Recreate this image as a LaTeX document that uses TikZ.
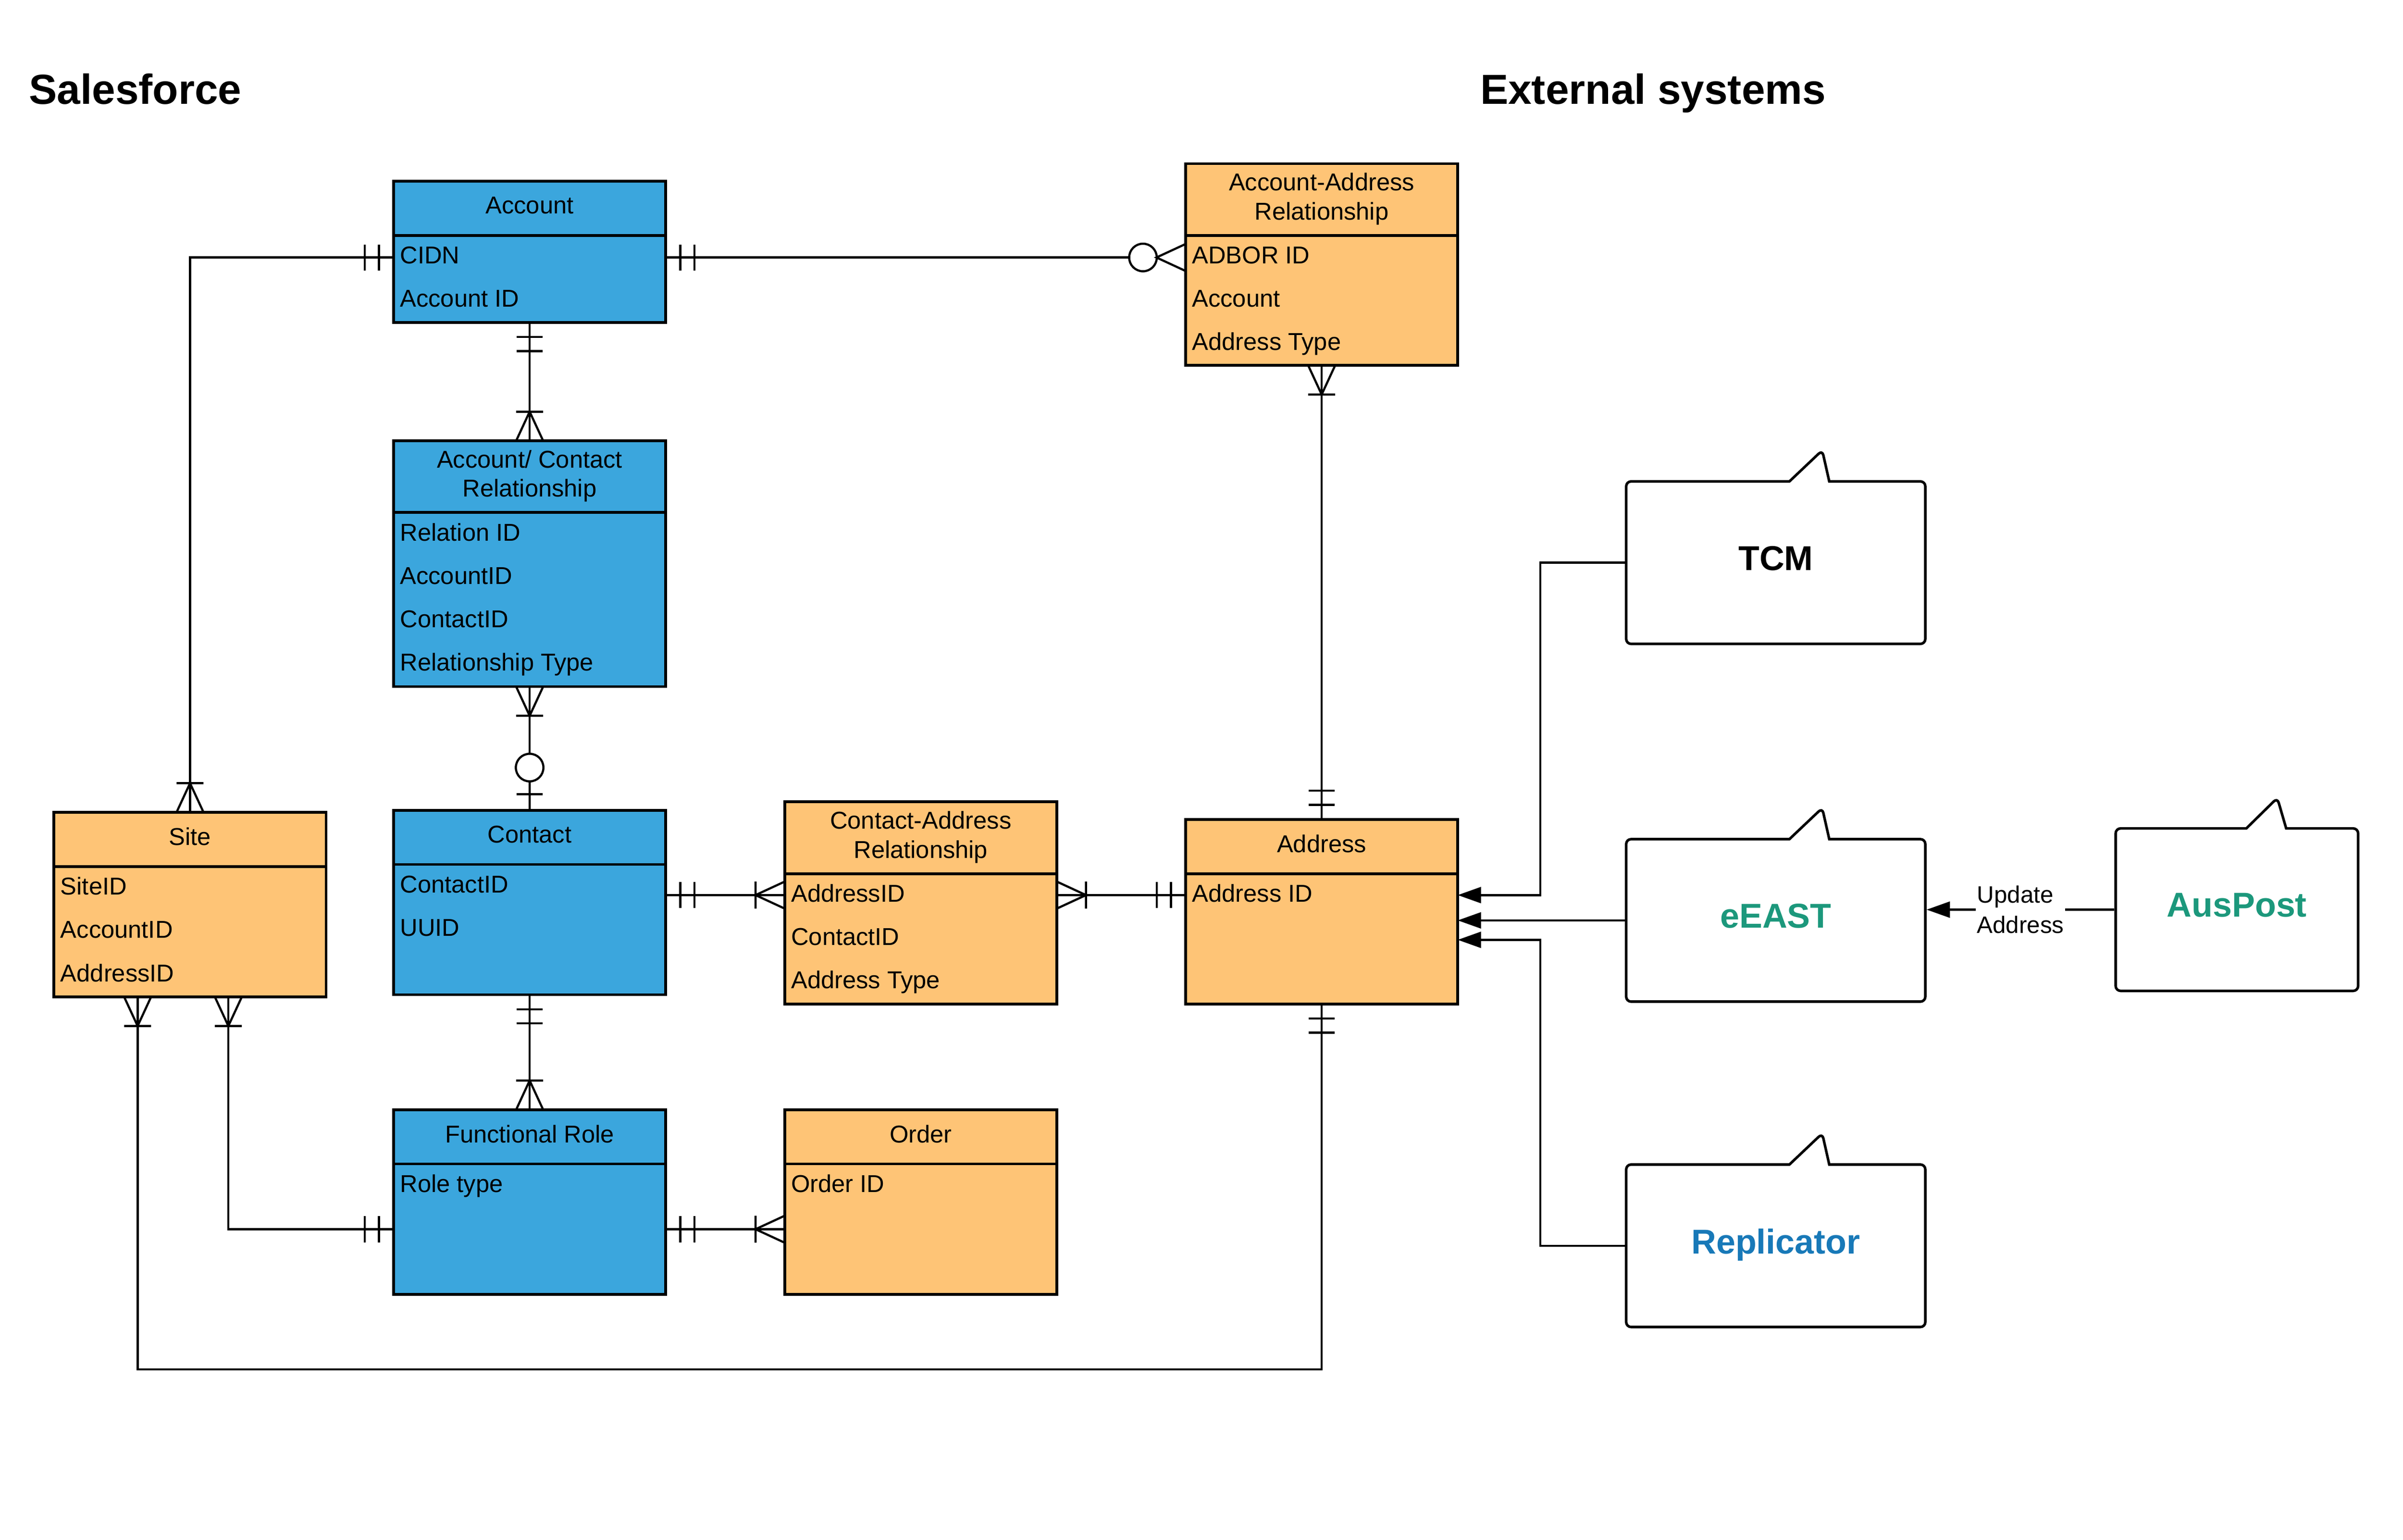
\documentclass[tikz,border=0pt]{standalone}
\usepackage{fontspec}
\setmainfont{Liberation Sans}
\usetikzlibrary{arrows.meta,positioning,shapes.callouts}

\definecolor{sfblue}{RGB}{59,166,221}
\definecolor{sforange}{RGB}{254,196,118}
\definecolor{extgreen}{RGB}{28,152,124}
\definecolor{extblue}{RGB}{24,121,184}

% crow's foot ends
\pgfdeclarearrow{
	name = erOne,
	setup code = {
		\pgfarrowssettipend{0pt}
		\pgfarrowssetlineend{0pt}
		\pgfarrowssetbackend{-0.5cm}
		\pgfarrowshullpoint{0pt}{0.22cm}
		\pgfarrowshullpoint{0pt}{-0.22cm}
		\pgfarrowshullpoint{-0.5cm}{0.22cm}
		\pgfarrowshullpoint{-0.5cm}{-0.22cm}
	},
	drawing code = {
		\pgfpathmoveto{\pgfpoint{-0.2375cm}{0.2125cm}}
		\pgfpathlineto{\pgfpoint{-0.2375cm}{-0.2125cm}}
		\pgfpathmoveto{\pgfpoint{-0.4675cm}{0.2125cm}}
		\pgfpathlineto{\pgfpoint{-0.4675cm}{-0.2125cm}}
		\pgfusepathqstroke
	}
}
\pgfdeclarearrow{
	name = erMany,
	setup code = {
		\pgfarrowssettipend{0pt}
		\pgfarrowssetlineend{0pt}
		\pgfarrowssetbackend{-0.5cm}
		\pgfarrowshullpoint{0pt}{0.22cm}
		\pgfarrowshullpoint{0pt}{-0.22cm}
		\pgfarrowshullpoint{-0.5cm}{0.22cm}
		\pgfarrowshullpoint{-0.5cm}{-0.22cm}
	},
	drawing code = {
		\pgfpathmoveto{\pgfpoint{0pt}{0.22cm}}
		\pgfpathlineto{\pgfpoint{-0.475cm}{0pt}}
		\pgfpathlineto{\pgfpoint{0pt}{-0.22cm}}
		\pgfpathmoveto{\pgfpoint{-0.475cm}{0.22cm}}
		\pgfpathlineto{\pgfpoint{-0.475cm}{-0.22cm}}
		\pgfusepathqstroke
	}
}
\pgfdeclarearrow{
	name = erZeroMany,
	setup code = {
		\pgfarrowssettipend{0pt}
		\pgfarrowssetlineend{-0.92cm}
		\pgfarrowssetbackend{-0.92cm}
		\pgfarrowshullpoint{0pt}{0.23cm}
		\pgfarrowshullpoint{0pt}{-0.23cm}
		\pgfarrowshullpoint{-0.92cm}{0.23cm}
		\pgfarrowshullpoint{-0.92cm}{-0.23cm}
	},
	drawing code = {
		\pgfpathmoveto{\pgfpoint{0pt}{0.22cm}}
		\pgfpathlineto{\pgfpoint{-0.475cm}{0pt}}
		\pgfpathlineto{\pgfpoint{0pt}{-0.22cm}}
		\pgfpathcircle{\pgfpoint{-0.695cm}{0pt}}{0.225cm}
		\pgfusepathqstroke
	}
}
\pgfdeclarearrow{
	name = erZeroOne,
	setup code = {
		\pgfarrowssettipend{0pt}
		\pgfarrowssetlineend{-0.92cm}
		\pgfarrowssetbackend{-0.92cm}
		\pgfarrowshullpoint{0pt}{0.23cm}
		\pgfarrowshullpoint{0pt}{-0.23cm}
		\pgfarrowshullpoint{-0.92cm}{0.23cm}
		\pgfarrowshullpoint{-0.92cm}{-0.23cm}
	},
	drawing code = {
		\pgfpathmoveto{\pgfpoint{0pt}{0pt}}
		\pgfpathlineto{\pgfpoint{-0.47cm}{0pt}}
		\pgfpathmoveto{\pgfpoint{-0.26cm}{0.2125cm}}
		\pgfpathlineto{\pgfpoint{-0.26cm}{-0.2125cm}}
		\pgfpathcircle{\pgfpoint{-0.695cm}{0pt}}{0.225cm}
		\pgfusepathqstroke
	}
}

\begin{document}
\begin{tikzpicture}
	\tikzstyle{every edge}=[draw,line width=1pt]
	\tikzstyle{rel}=[draw,line width=1pt]
	\tikzstyle{heading}=[anchor=base west,inner sep=0pt,font=\fontsize{19.5}{23}\selectfont\bfseries]
	\tikzstyle{entity}=[draw,line width=1.3pt,minimum width=4.44cm,inner sep=0pt,outer sep=0pt,align=center,font=\fontsize{11.3}{13.5}\selectfont]
	\tikzstyle{head}=[entity,anchor=north west,minimum height=0.885cm,text depth=0.1cm]
	\tikzstyle{head2}=[head,minimum height=1.17cm]
	\tikzstyle{body}=[entity,minimum height=2.125cm]
	\tikzstyle{attr}=[anchor=base west,inner sep=0pt,font=\fontsize{11.3}{13.5}\selectfont]
	\tikzstyle{sys}=[rectangle callout,draw,line width=1.2pt,rounded corners=0.08cm,minimum width=4.88cm,minimum height=2.65cm,callout pointer width=0.65cm,callout relative pointer={(0.21,0.5075)},text depth=0.15cm,font=\fontsize{16}{19}\selectfont\bfseries]
	\tikzstyle{feed}=[line width=1pt,-{Triangle[length=0.38cm,width=0.26cm]}]
	\tikzstyle{upd}=[fill=white,inner xsep=0.5pt,inner ysep=1pt,align=left,font=\fontsize{11}{14}\selectfont]

	\useasboundingbox (0,0) rectangle (39.2,-25.115);

	\node (sf) [heading] at (0.465,-1.70) {Salesforce};
	\node (ext) [heading] at (24.14,-1.70) {External systems};

	\node (acct) [head,fill=sfblue] at (6.42,-2.955) {Account};
	\node (acctb) [body,fill=sfblue,below=0pt of acct,minimum height=1.42cm] {};
	\node (cidn) [attr] at ([shift={(0.1,-0.46)}]acctb.north west) {CIDN};
	\node (acctid) [attr] at ([yshift=-0.7075cm]cidn.base west) {Account ID};

	\node (acctrel) [head2,fill=sfblue] at (6.42,-7.19) {Account/ Contact\\Relationship};
	\node (acctrelb) [body,fill=sfblue,below=0pt of acctrel,minimum height=2.84cm] {};
	\node (relid) [attr] at ([shift={(0.1,-0.46)}]acctrelb.north west) {Relation ID};
	\node (relacct) [attr] at ([yshift=-0.7075cm]relid.base west) {AccountID};
	\node (relcont) [attr] at ([yshift=-0.7075cm]relacct.base west) {ContactID};
	\node (reltype) [attr] at ([yshift=-0.7075cm]relcont.base west) {Relationship Type};

	\node (accaddr) [head2,fill=sforange] at (19.34,-2.67) {Account-Address\\Relationship};
	\node (accaddrb) [body,fill=sforange,below=0pt of accaddr,minimum height=2.12cm] {};
	\node (adbor) [attr] at ([shift={(0.1,-0.46)}]accaddrb.north west) {ADBOR ID};
	\node (aaacct) [attr] at ([yshift=-0.7075cm]adbor.base west) {Account};
	\node (aatype) [attr] at ([yshift=-0.7075cm]aaacct.base west) {Address Type};

	\node (site) [head,fill=sforange] at (0.88,-13.25) {Site};
	\node (siteb) [body,fill=sforange,below=0pt of site] {};
	\node (siteid) [attr] at ([shift={(0.1,-0.46)}]siteb.north west) {SiteID};
	\node (siteacct) [attr] at ([yshift=-0.7075cm]siteid.base west) {AccountID};
	\node (siteaddr) [attr] at ([yshift=-0.7075cm]siteacct.base west) {AddressID};

	\node (contact) [head,fill=sfblue] at (6.42,-13.215) {Contact};
	\node (contactb) [body,fill=sfblue,below=0pt of contact] {};
	\node (contid) [attr] at ([shift={(0.1,-0.46)}]contactb.north west) {ContactID};
	\node (uuid) [attr] at ([yshift=-0.7075cm]contid.base west) {UUID};

	\node (conaddr) [head2,fill=sforange] at (12.80,-13.08) {Contact-Address\\Relationship};
	\node (conaddrb) [body,fill=sforange,below=0pt of conaddr] {};
	\node (caaddr) [attr] at ([shift={(0.1,-0.46)}]conaddrb.north west) {AddressID};
	\node (cacont) [attr] at ([yshift=-0.7075cm]caaddr.base west) {ContactID};
	\node (catype) [attr] at ([yshift=-0.7075cm]cacont.base west) {Address Type};

	\node (addr) [head,fill=sforange] at (19.34,-13.365) {Address};
	\node (addrb) [body,fill=sforange,below=0pt of addr] {};
	\node (addrid) [attr] at ([shift={(0.1,-0.46)}]addrb.north west) {Address ID};

	\node (role) [head,fill=sfblue] at (6.42,-18.10) {Functional Role};
	\node (roleb) [body,fill=sfblue,below=0pt of role] {};
	\node (roletype) [attr] at ([shift={(0.1,-0.46)}]roleb.north west) {Role type};

	\node (order) [head,fill=sforange] at (12.80,-18.10) {Order};
	\node (orderb) [body,fill=sforange,below=0pt of order] {};
	\node (orderid) [attr] at ([shift={(0.1,-0.46)}]orderb.north west) {Order ID};

	\draw [rel,erMany-erOne] (site.north) |- ([yshift=-0.36cm]acctb.north west);
	\path [erOne-erZeroMany] ([yshift=-0.36cm]acctb.north east) edge ([yshift=-0.36cm]accaddrb.north west);
	\path [erOne-erMany] (acctb.south) edge (acctrel.north);
	\path [erMany-erZeroOne] (acctrelb.south) edge (contact.north);
	\path [erMany-erOne] (accaddrb.south) edge (addr.north);
	\path [erOne-erMany] ([yshift=-0.5cm]contactb.north east) edge ([yshift=-0.35cm]conaddrb.north west);
	\path [erMany-erOne] ([yshift=-0.35cm]conaddrb.north east) edge ([yshift=-0.35cm]addrb.north west);
	\path [erOne-erMany] (contactb.south) edge (role.north);
	\path [erOne-erMany] ([yshift=-1.065cm]roleb.north east) edge ([yshift=-1.065cm]orderb.north west);
	\draw [rel,erMany-erOne] ([xshift=2.845cm]siteb.south west) |- ([yshift=-1.065cm]roleb.north west);
	\draw [rel,erMany-erOne] ([xshift=1.365cm]siteb.south west) -- ++(0,-6.075) -| (addrb.south);

	\node (tcm) [sys] at (28.9675,-9.1775) {TCM};
	\node (eeast) [sys,text=extgreen] at (28.9675,-15.0125) {eEAST};
	\node (repl) [sys,text=extblue] at (28.9675,-20.32) {Replicator};
	\node (auspost) [sys,text=extgreen,minimum width=3.955cm,callout relative pointer={(0.18,0.4975)}] at (36.49,-14.8375) {AusPost};

	\draw [feed] (tcm.west) -- ++(-1.38,0) |- ([yshift=-0.35cm]addrb.north east);
	\draw [feed] (eeast.west) -- (eeast.west -| addrb.east);
	\draw [feed] (repl.west) -- ++(-1.38,0) |- ([yshift=-1.08cm]addrb.north east);
	\draw [feed] (auspost.west) -- node [upd] {Update\\Address} (auspost.west -| eeast.east);
\end{tikzpicture}
\end{document}
